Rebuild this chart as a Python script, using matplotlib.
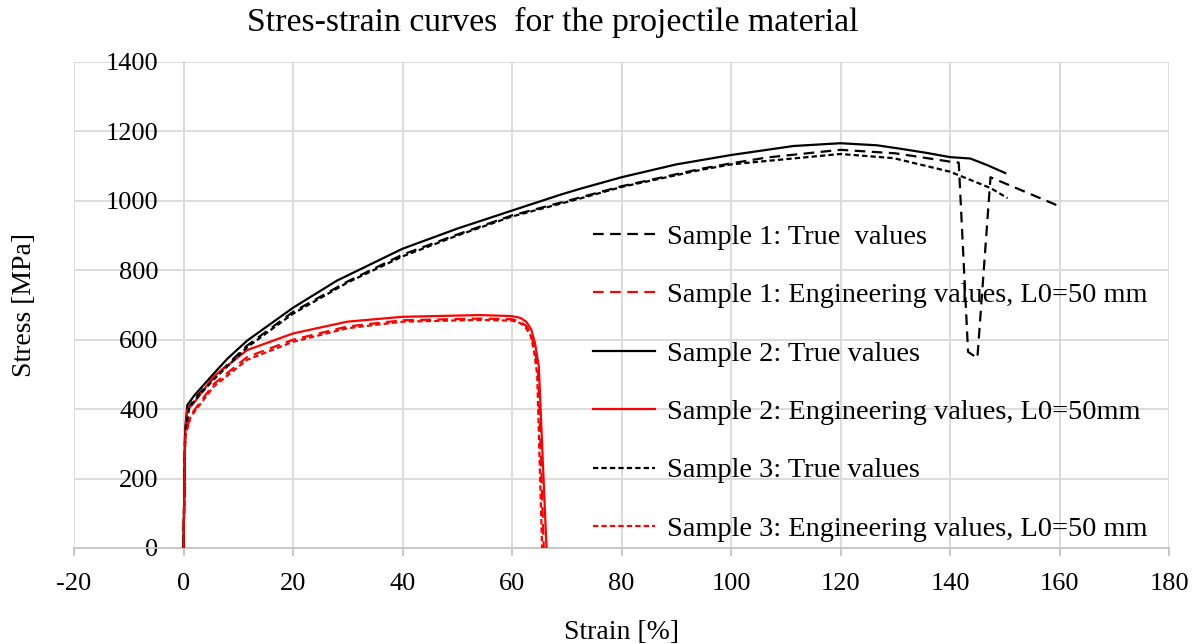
"""
plot.py - stress-strain curves (true and engineering values) for three samples.
"""

import matplotlib
matplotlib.use("Agg")
import matplotlib.pyplot as plt

# ── Data ────────────────────────────────────────────────────────────────────
# Sample 1 - true values
s1_true_x = [0, 0.3, 1.0, 2, 5.5, 11.6, 20, 30, 40, 50, 60, 72.5, 80, 94.4,
             100, 106.6, 120, 130, 140, 141.6, 143.3, 145, 147.4, 160.2]
s1_true_y = [0, 335, 405, 430, 490, 583, 680, 768, 845, 903, 958, 1010, 1042,
             1092, 1108, 1125, 1147, 1137, 1113, 1110, 565, 547, 1068, 983]

# Sample 1 - engineering values
s1_eng_x = [0, 0.3, 1.3, 5.5, 11.6, 20, 29.9, 40, 54.2, 60, 61.5, 62.6,
            63.5, 64.2, 64.8, 65.8]
s1_eng_y = [0, 325, 383, 472, 550, 600, 638, 656, 661, 659, 652, 640, 615,
            570, 500, 0]

# Sample 2 - true values
s2_true_x = [0, 0.3, 0.7, 2, 5.5, 8, 11.6, 20, 28, 40, 50, 60, 68.9, 72.5,
             80, 90, 100, 111.4, 120, 126.7, 131, 135.8, 140, 143.7, 146.8,
             150.1]
s2_true_y = [0, 340, 412, 440, 502, 545, 597, 692, 770, 862, 920, 972, 1018,
             1035, 1068, 1105, 1132, 1158, 1166, 1160, 1150, 1138, 1126, 1122,
             1103, 1080]

# Sample 2 - engineering values
s2_eng_x = [0, 0.3, 0.7, 2, 5.5, 11.6, 20, 29.9, 40, 54.2, 60, 61.5, 62.6,
            63.5, 64.2, 64.9, 65.6, 66.3]
s2_eng_y = [0, 330, 398, 420, 494, 570, 618, 652, 666, 671, 668, 663, 652,
            630, 590, 522, 260, 0]

# Sample 3 - true values
s3_true_x = [0, 0.3, 1.0, 2, 5.5, 11.6, 20, 30, 40, 50, 60, 72.5, 80, 94.4,
             100, 106.6, 120, 129.7, 140, 147.4, 150.5]
s3_true_y = [0, 330, 400, 425, 485, 578, 675, 765, 840, 900, 955, 1007, 1040,
             1089, 1105, 1115, 1135, 1123, 1084, 1037, 1008]

# Sample 3 - engineering values
s3_eng_x = [0, 0.3, 1.3, 5.5, 11.6, 20, 29.9, 40, 54.2, 60, 61.5, 62.5,
            63.4, 64.0, 64.6, 65.5]
s3_eng_y = [0, 320, 378, 465, 542, 594, 633, 652, 657, 655, 648, 635, 612,
            570, 500, 0]

labels = [
    "Sample 1: True  values",
    "Sample 1: Engineering values, L0=50 mm",
    "Sample 2: True values",
    "Sample 2: Engineering values, L0=50mm",
    "Sample 3: True values",
    "Sample 3: Engineering values, L0=50 mm",
]

x_ticks = list(range(-20, 181, 20))
y_ticks = list(range(0, 1401, 200))

# ── Styling ─────────────────────────────────────────────────────────────────
FONT = ["Liberation Serif", "DejaVu Serif"]
GRID = "#d9d9d9"
LONG_DASH = (0, (4.8, 2.9))
FINE_DASH = (0, (2.4, 1.4))
LW = 1.6

plt.rcParams["font.family"] = FONT
plt.rcParams["axes.unicode_minus"] = False

fig = plt.figure(figsize=(12, 6.44), dpi=100)
ax = fig.add_axes([74 / 1200, 1 - 548 / 644, (1169 - 74) / 1200, (548 - 62) / 644])

series = [
    (s1_true_x, s1_true_y, "black", LONG_DASH),
    (s1_eng_x, s1_eng_y, "red", LONG_DASH),
    (s2_true_x, s2_true_y, "black", "-"),
    (s2_eng_x, s2_eng_y, "red", "-"),
    (s3_true_x, s3_true_y, "black", FINE_DASH),
    (s3_eng_x, s3_eng_y, "red", FINE_DASH),
]
for (xs, ys, color, ls), label in zip(series, labels):
    ax.plot(xs, ys, color=color, linestyle=ls, linewidth=LW, label=label,
            zorder=3)

ax.set_xlim(-20, 180)
ax.set_ylim(0, 1400)
ax.set_xticks(x_ticks)
ax.set_yticks(y_ticks)
ax.grid(True, color=GRID, linewidth=1.3, zorder=0)
ax.set_axisbelow(True)

for side in ("top", "right"):
    ax.spines[side].set_visible(False)
ax.spines["bottom"].set_color("#c4c4c4")
ax.spines["bottom"].set_linewidth(1.3)
ax.spines["left"].set_position(("data", 0))
ax.spines["left"].set_color(GRID)
ax.spines["left"].set_linewidth(1.3)

ax.tick_params(axis="x", length=6, width=1.3, color="#c4c4c4", pad=12,
               labelsize=19)
ax.tick_params(axis="y", length=0, pad=18, labelsize=19)

ax.set_xlabel("Strain [%]", fontsize=20, labelpad=18)
ax.set_ylabel("Stress [MPa]", fontsize=20)
ax.yaxis.set_label_coords(-0.034, 0.5)
fig.text(553 / 1200, 1 - 22 / 644, "Stres-strain curves  for the projectile material",
         ha="center", va="center", fontsize=24.3)

ax.legend(loc="upper left", bbox_to_anchor=(593 / 1200, 1 - 224 / 644),
          bbox_transform=fig.transFigure, frameon=False, fontsize=20.4,
          handlelength=2.19, handletextpad=0.42, labelspacing=1.15,
          borderpad=0, borderaxespad=0)

fig.savefig("out.png", dpi=100)
